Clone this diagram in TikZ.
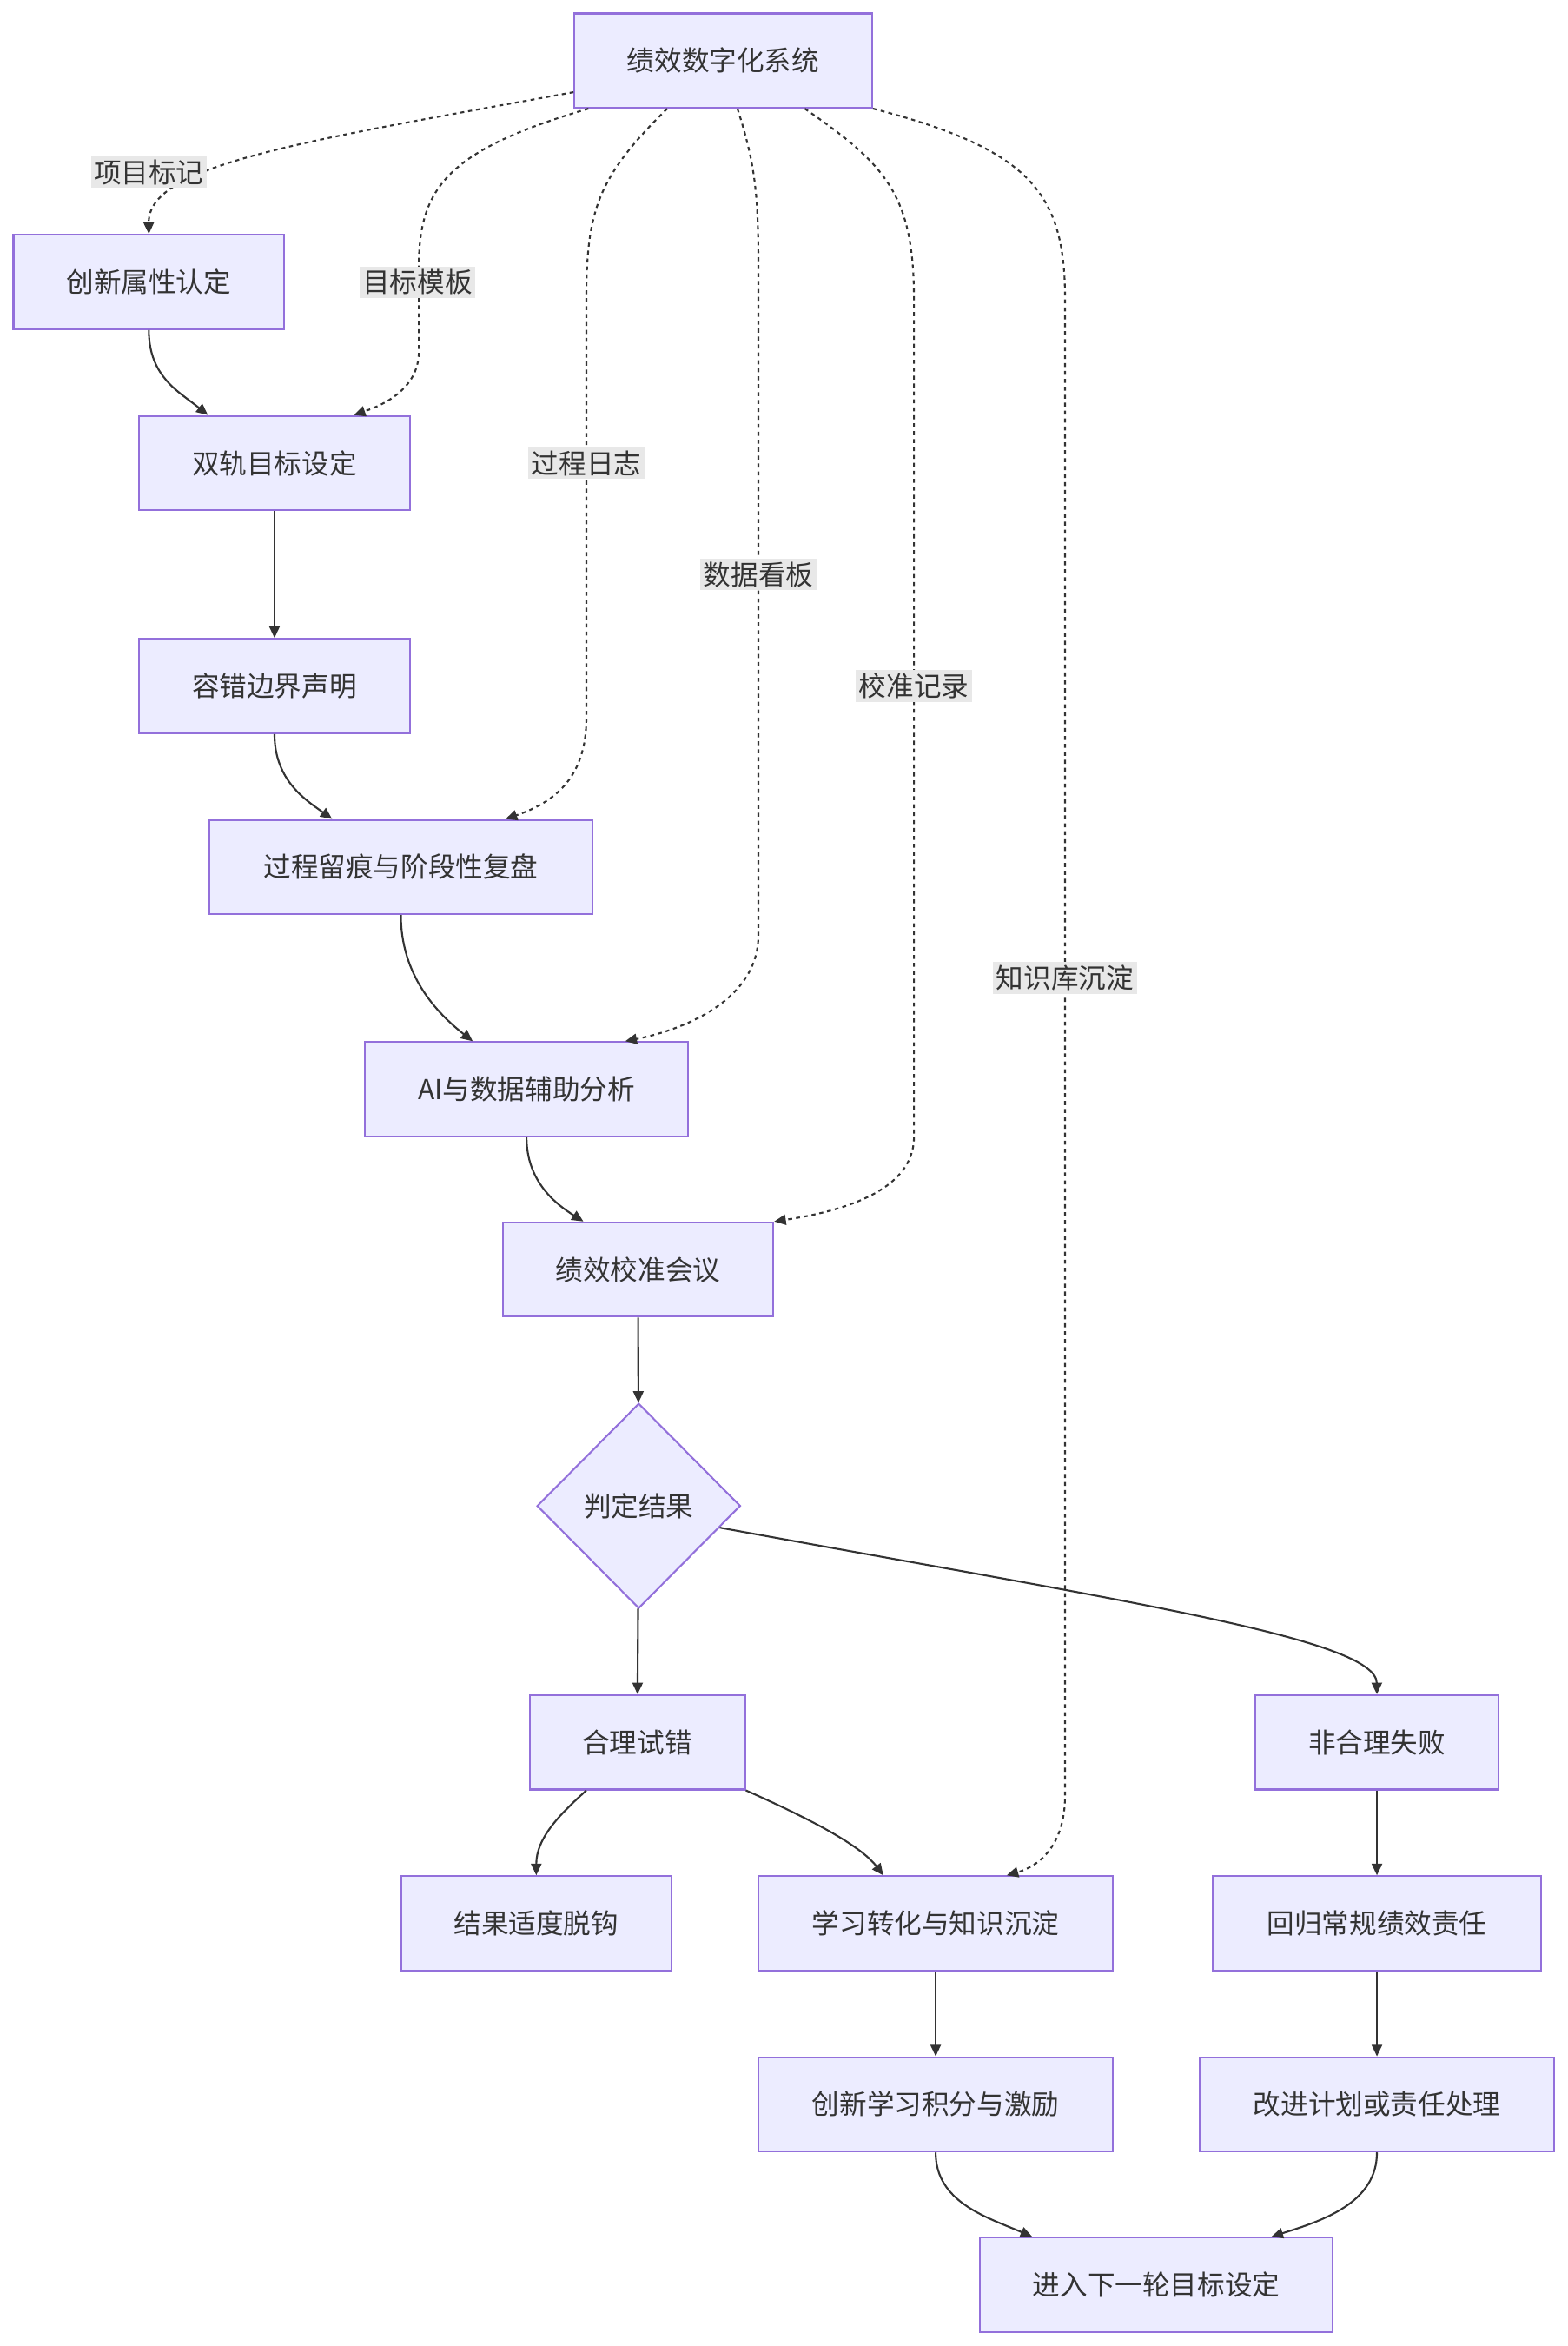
\documentclass[tikz,border=0pt]{standalone}
\usepackage{fontspec}
\setmainfont{Noto Sans CJK SC}
\usetikzlibrary{shapes.geometric,arrows.meta,calc}
\definecolor{nodefill}{HTML}{ECECFF}
\definecolor{nodeline}{HTML}{9370DB}
\definecolor{edgecol}{HTML}{333333}
\definecolor{lblbg}{HTML}{E8E8E8}
\def\u{0.017223cm}
\tikzset{
  box/.style={draw=nodeline, fill=nodefill, line width=0.6pt, text=edgecol,
    font=\fontsize{9pt}{11pt}\selectfont, inner sep=0pt, minimum height=63*\u},
  dia/.style={diamond, draw=nodeline, fill=nodefill, line width=0.6pt, text=edgecol,
    font=\fontsize{9pt}{11pt}\selectfont, inner sep=0pt, minimum width=136*\u, minimum height=137*\u},
  lbl/.style={fill=lblbg, text=edgecol, font=\fontsize{9pt}{11pt}\selectfont, inner sep=1pt},
  conn/.style={draw=edgecol, line width=0.6pt, -{Triangle[length=3.8pt,width=3.4pt]}},
  dconn/.style={conn, dash pattern=on 1.3pt off 1.3pt},
}
\begin{document}
\begin{tikzpicture}[x=0.017223cm, y=-0.017223cm]
\useasboundingbox[fill=white] (0,0) rectangle (1048,1568);

\node[box, minimum width=199*\u] (sys) at (483.5,40.5) {绩效数字化系统};
\node[box, minimum width=181*\u] (innov) at (99.5,188.5) {创新属性认定};
\node[box, minimum width=181*\u] (dual) at (183.5,309.5) {双轨目标设定};
\node[box, minimum width=181*\u] (tol) at (183.5,458.5) {容错边界声明};
\node[box, minimum width=256*\u] (proc) at (268,579.5) {过程留痕与阶段性复盘};
\node[box, minimum width=216*\u] (ai) at (352,728) {AI与数据辅助分析};
\node[box, minimum width=181*\u] (cal) at (426.5,848.5) {绩效校准会议};
\node[dia] (judge) at (427,1006.5) {判定结果};
\node[box, minimum width=144*\u] (ok) at (426,1164.5) {合理试错};
\node[box, minimum width=163*\u] (fail) at (920.5,1164.5) {非合理失败};
\node[box, minimum width=181*\u] (decouple) at (358.5,1285.5) {结果适度脱钩};
\node[box, minimum width=237*\u] (learn) at (625.5,1285.5) {学习转化与知识沉淀};
\node[box, minimum width=219*\u] (back) at (920.5,1285.5) {回归常规绩效责任};
\node[box, minimum width=237*\u] (points) at (625.5,1406.5) {创新学习积分与激励};
\node[box, minimum width=237*\u] (improve) at (920.5,1406.5) {改进计划或责任处理};
\node[box, minimum width=236*\u] (next) at (773,1527) {进入下一轮目标设定};

% dotted edges from the system
\draw[dconn] ([yshift=11*\u]sys.south west) .. controls (200,95) and (99,110) .. (innov.north);
\draw[dconn] ([xshift=10*\u]sys.south west) .. controls (300,100) and (281,125) .. (280,175) -- (280,235) .. controls (280,262) and (252,272) .. ([xshift=53*\u]dual.north);
\draw[dconn] ([xshift=-37.5*\u]sys.south) .. controls (400,118) and (392,140) .. (392,200) -- (392,480) .. controls (392,522) and (368,537) .. ([xshift=70*\u]proc.north);
\draw[dconn] ([xshift=9.5*\u]sys.south) .. controls (505,110) and (507,130) .. (507,180) -- (507,625) .. controls (507,668) and (458,688) .. ([xshift=66*\u]ai.north);
\draw[dconn] ([xshift=54.5*\u]sys.south) .. controls (592,110) and (611,130) .. (611,200) -- (611,760) .. controls (611,797) and (560,810) .. (cal.north east);
\draw[dconn] (sys.south east) .. controls (690,100) and (712,130) .. (712,200) -- (712,1200) .. controls (712,1236) and (692,1248) .. ([xshift=47.5*\u]learn.north);

% solid edges
\draw[conn] (innov.south) .. controls (99.5,252) and (120,262) .. ([xshift=-44.5*\u]dual.north);
\draw[conn] (dual) -- (tol);
\draw[conn] (tol.south) .. controls (183.5,522) and (205,535) .. ([xshift=-46*\u]proc.north);
\draw[conn] (proc.south) .. controls (268,652) and (292,677) .. ([xshift=-36*\u]ai.north);
\draw[conn] (ai.south) .. controls (352,790) and (372,805) .. ([xshift=-36.5*\u]cal.north);
\draw[conn] (cal) -- (judge);
\draw[conn] (judge) -- (ok);
\draw[conn] (judge.-15) .. controls (750,1070) and (920,1095) .. (fail.north);
\draw[conn] ([xshift=-34*\u]ok.south) .. controls (375,1212) and (358.5,1228) .. (decouple.north);
\draw[conn] (ok.south east) .. controls (540,1215) and (575,1233) .. ([xshift=-35*\u]learn.north);
\draw[conn] (fail) -- (back);
\draw[conn] (learn) -- (points);
\draw[conn] (back) -- (improve);
\draw[conn] (points.south) .. controls (625.5,1472) and (660,1482) .. ([xshift=-83*\u]next.north);
\draw[conn] (improve.south) .. controls (920.5,1472) and (885,1484) .. ([xshift=77*\u]next.north);

% edge labels
\node[lbl] (l1) at (99.5,115) {项目标记};
\node[lbl] (l2) at (279,188.5) {目标模板};
\node[lbl] (l3) at (392,309.5) {过程日志};
\node[lbl] (l4) at (507,384) {数据看板};
\node[lbl] (l5) at (611,458.5) {校准记录};
\node[lbl] (l6) at (712,653.5) {知识库沉淀};
\end{tikzpicture}
\end{document}
